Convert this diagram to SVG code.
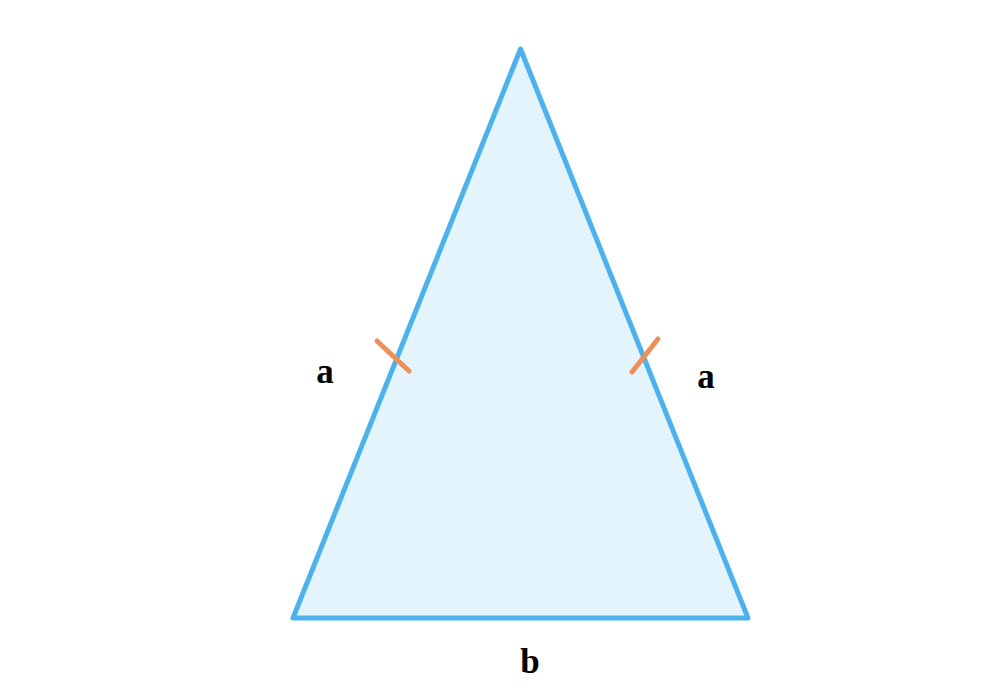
<svg xmlns="http://www.w3.org/2000/svg" width="1000" height="700" viewBox="0 0 1000 700">
<style>
.side{stroke:#4DB1EE;stroke-width:5;stroke-linecap:round;stroke-linejoin:round}
.tick{stroke:#EE8F57;stroke-width:5;stroke-linecap:round}
.lbl{font-family:"Liberation Serif",serif;font-weight:bold;font-size:35px;fill:#000;text-anchor:middle}
</style>
<rect width="1000" height="700" fill="#fff"/>
<g id="triangle">
<polygon points="520.5,49 293,618 748,618" fill="#E4F4FC" class="side"/>
</g>
<g id="ticks">
<line class="tick" x1="377" y1="341" x2="409" y2="371"/>
<line class="tick" x1="632" y1="372" x2="658" y2="339"/>
</g>
<g id="labels">
<text class="lbl" x="325" y="383">a</text>
<text class="lbl" x="706" y="388">a</text>
<text class="lbl" x="530" y="673">b</text>
</g>
</svg>
